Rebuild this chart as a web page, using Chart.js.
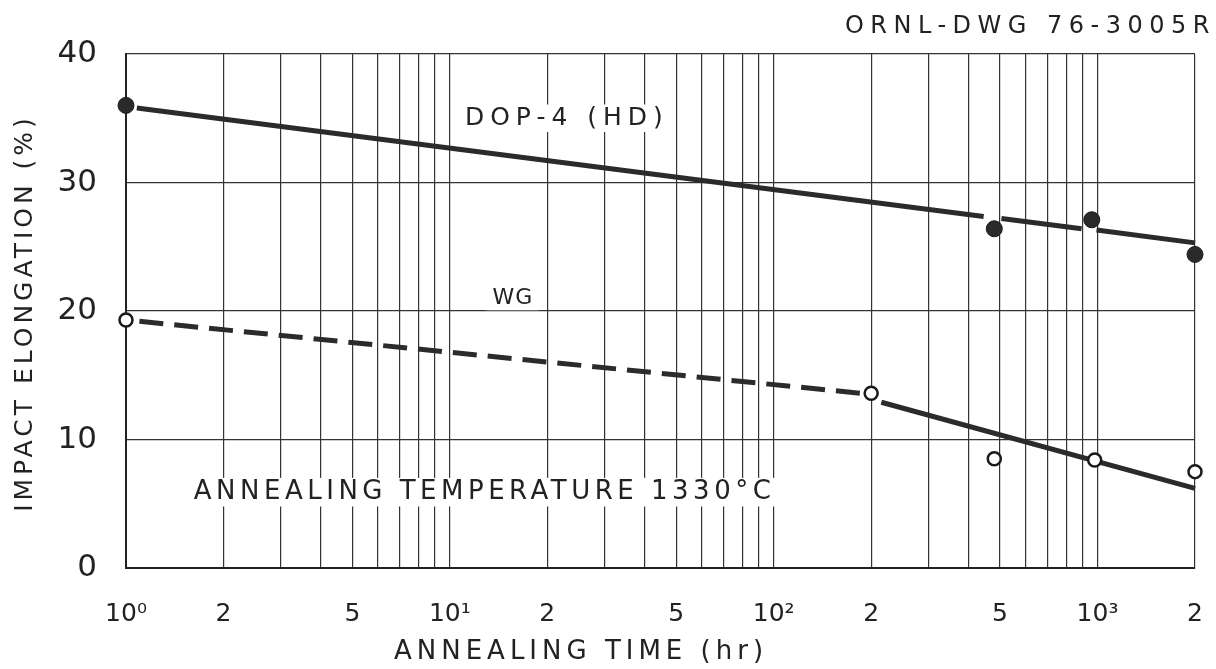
<!DOCTYPE html>
<html lang="en">
<head>
<meta charset="UTF-8">
<title>Impact elongation vs annealing time</title>
<script src="https://cdn.jsdelivr.net/npm/chart.js"></script>
<style>
  body { margin: 0; background: #fff; }
  #wrap { width: 1216px; height: 669px; position: relative; }
</style>
</head>
<body>
<div id="wrap"><canvas id="chart"></canvas></div>
<script>
// DOP-4 (HD), filled circles
const dopTime = [1, 480, 960, 2000];
const dopElong = [36.0, 26.4, 27.1, 24.4];
// straight line drawn through DOP-4, broken around the points (null = gap)
const dopFitTime = [1.08, 445, 465, 505, 893, 930, 993, 2000];
const dopFitElong = [35.8, 27.35, null, 27.2, 26.4, null, 26.3, 25.3];

// WG, open circles
const wgTime = [1, 200, 480, 980, 2000];
const wgElong = [19.3, 13.6, 8.5, 8.4, 7.5];
// dashed part and solid part of the WG line
const wgDashTime = [1.1, 185];
const wgDashElong = [19.2, 13.6];
const wgFitTime = [215, 2000];
const wgFitElong = [12.9, 6.2];

// labelled x ticks
const xLabelValues = [1, 2, 5, 10, 20, 50, 100, 200, 500, 1000, 2000];
const xLabelTexts = ['10⁰', '2', '5', '10¹', '2', '5', '10²', '2', '5', '10³', '2'];
const yTicks = [0, 10, 20, 30, 40];

// log paper: a line at every 1..9 x 10^n up to 2000
const gridValues = [];
for (let d = 0; d <= 3; d++) {
  for (let m = 1; m <= 9; m++) {
    const v = m * Math.pow(10, d);
    if (v <= 2000) gridValues.push(v);
  }
}

// lettering inside the plot (placed in data units)
const notes = [
  { text: 'DOP-4 (HD)', x: 22.5, y: 35.0, size: 25, spacing: 6 },
  { text: 'WG', x: 15.6, y: 21.0, size: 22, spacing: 1 },
  { text: 'ANNEALING TEMPERATURE 1330°C', x: 12.6, y: 5.9, size: 26, spacing: 4.5 }
];

const FONT = '"DejaVu Sans", sans-serif';
const W = 'normal';
const ink = '#222';
const pts = (xs, ys) => xs.map((x, i) => ({ x: x, y: ys[i] }));

const paperText = {
  id: 'paperText',
  beforeDatasetsDraw(chart) {
    const { ctx, scales: { x, y } } = chart;
    ctx.save();
    notes.forEach(n => {
      ctx.font = W + ' ' + n.size + 'px ' + FONT;
      ctx.letterSpacing = n.spacing + 'px';
      const w = ctx.measureText(n.text).width;
      const px = x.getPixelForValue(n.x), py = y.getPixelForValue(n.y);
      ctx.fillStyle = '#fff';
      ctx.fillRect(px - w / 2 - 6, py - n.size * 0.55, w + 12, n.size * 1.1);
      ctx.fillStyle = ink;
      ctx.textAlign = 'center';
      ctx.textBaseline = 'middle';
      ctx.fillText(n.text, px + n.spacing / 2, py);
    });
    ctx.restore();
  },
  afterDraw(chart) {
    const { ctx, chartArea: a } = chart;
    ctx.save();
    ctx.fillStyle = ink;
    ctx.textBaseline = 'middle';

    // drawing number, top right
    ctx.font = W + ' 24px ' + FONT;
    ctx.letterSpacing = '6.5px';
    ctx.textAlign = 'right';
    ctx.fillText('ORNL-DWG 76-3005R', a.right + 21, a.top - 27);

    // x axis title
    ctx.font = W + ' 26px ' + FONT;
    ctx.letterSpacing = '5px';
    ctx.textAlign = 'center';
    ctx.fillText('ANNEALING TIME (hr)', a.left + 455, a.bottom + 84);

    // y axis title
    ctx.translate(25, (a.top + a.bottom) / 2 + 2);
    ctx.rotate(-Math.PI / 2);
    ctx.font = W + ' 25px ' + FONT;
    ctx.letterSpacing = '4px';
    ctx.fillText('IMPACT ELONGATION (%)', 0, 0);
    ctx.restore();
  }
};

const lineStyle = {
  showLine: true,
  borderColor: '#2b2b2b',
  borderWidth: 5,
  pointRadius: 0,
  spanGaps: false,
  order: 1,
  clip: false
};

new Chart(document.getElementById('chart'), {
  type: 'scatter',
  data: {
    datasets: [
      {
        label: 'DOP-4 (HD)',
        data: pts(dopTime, dopElong),
        pointRadius: 8,
        pointBackgroundColor: '#2a2a2a',
        pointBorderColor: '#1a1a1a',
        pointBorderWidth: 1,
        order: 0,
        clip: false
      },
      Object.assign({ label: 'DOP-4 line', data: pts(dopFitTime, dopFitElong) }, lineStyle),
      {
        label: 'WG',
        data: pts(wgTime, wgElong),
        pointRadius: 6.5,
        pointBackgroundColor: '#fff',
        pointBorderColor: '#1a1a1a',
        pointBorderWidth: 2.5,
        order: 0,
        clip: false
      },
      Object.assign({ label: 'WG dashed', data: pts(wgDashTime, wgDashElong), borderDash: [24, 11] }, lineStyle),
      Object.assign({ label: 'WG line', data: pts(wgFitTime, wgFitElong) }, lineStyle)
    ]
  },
  options: {
    responsive: true,
    maintainAspectRatio: false,
    animation: false,
    layout: { padding: { left: 56, right: 21, top: 54, bottom: 0 } },
    plugins: {
      legend: { display: false },
      tooltip: { enabled: false },
      title: { display: false }
    },
    scales: {
      x: {
        type: 'logarithmic',
        min: 1,
        max: 2000,
        afterBuildTicks: s => { s.ticks = gridValues.map(v => ({ value: v })); },
        afterFit: s => { s.height = 101; s.paddingLeft = 0; s.paddingRight = 0; },
        grid: { color: '#333', lineWidth: 1.2, drawTicks: false },
        border: { color: '#222', width: 2 },
        ticks: {
          autoSkip: false,
          maxRotation: 0,
          padding: 31,
          color: ink,
          font: { family: FONT, size: 25, weight: W },
          callback: v => {
            const i = xLabelValues.indexOf(v);
            return i < 0 ? '' : xLabelTexts[i];
          }
        }
      },
      y: {
        type: 'linear',
        min: 0,
        max: 40,
        afterBuildTicks: s => { s.ticks = yTicks.map(v => ({ value: v })); },
        afterFit: s => { s.width = 70; s.paddingTop = 0; s.paddingBottom = 0; },
        grid: { color: '#333', lineWidth: 1.2, drawTicks: false },
        border: { color: '#222', width: 2 },
        ticks: {
          padding: 29,
          color: ink,
          font: { family: FONT, size: 31, weight: W }
        }
      }
    }
  },
  plugins: [paperText]
});
</script>
</body>
</html>
